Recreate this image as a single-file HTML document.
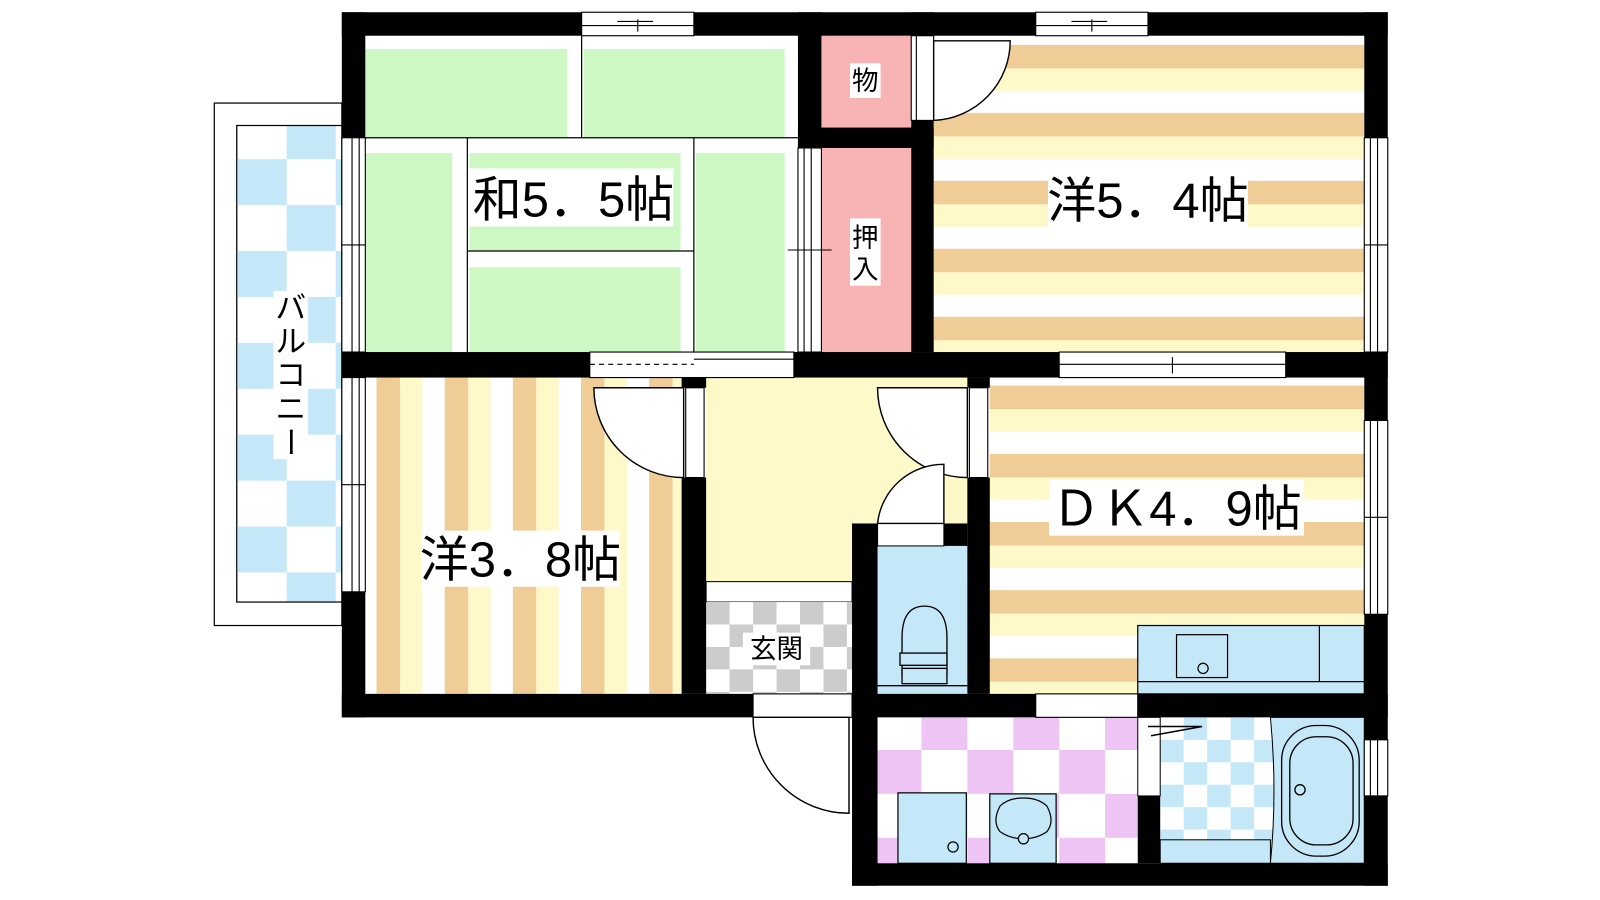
<!DOCTYPE html>
<html><head><meta charset="utf-8"><style>
html,body{margin:0;padding:0;background:#fff;width:1600px;height:900px;overflow:hidden}
svg{display:block}
.t{font-family:"Liberation Sans","Noto Sans CJK JP",sans-serif;fill:#000}
</style></head><body>
<svg width="1600" height="900" viewBox="0 0 1568 882" xmlns="http://www.w3.org/2000/svg">
<defs>
<pattern id="hs" patternUnits="userSpaceOnUse" x="0" y="44" width="10" height="66.6">
<rect width="10" height="23" fill="#f0cc96"/><rect y="23" width="10" height="22" fill="#fff8c8"/><rect y="45" width="10" height="21.6" fill="#fff"/></pattern>
<pattern id="hs2" patternUnits="userSpaceOnUse" x="0" y="378" width="10" height="66.8">
<rect width="10" height="23" fill="#f0cc96"/><rect y="23" width="10" height="22" fill="#fff8c8"/><rect y="45" width="10" height="21.8" fill="#fff"/></pattern>
<pattern id="vs" patternUnits="userSpaceOnUse" x="369" y="0" width="66.8" height="10">
<rect width="23" height="10" fill="#f0cc96"/><rect x="23" width="22" height="10" fill="#fff8c8"/><rect x="45" width="21.8" height="10" fill="#fff"/></pattern>
<pattern id="bal" patternUnits="userSpaceOnUse" x="233" y="111" width="96" height="90">
<rect width="96" height="90" fill="#fff"/><rect x="48" width="48" height="45" fill="#c4e8f8"/><rect y="45" width="48" height="45" fill="#c4e8f8"/></pattern>
<pattern id="pk" patternUnits="userSpaceOnUse" x="858" y="692" width="90" height="86">
<rect width="90" height="86" fill="#fff"/><rect x="45" width="45" height="43" fill="#eec4f4"/><rect y="43" width="45" height="43" fill="#eec4f4"/></pattern>
<pattern id="gr" patternUnits="userSpaceOnUse" x="692" y="590" width="46" height="44">
<rect width="46" height="44" fill="#fff"/><rect width="23" height="22" fill="#cccccc"/><rect x="23" y="22" width="23" height="22" fill="#cccccc"/></pattern>
<pattern id="bb" patternUnits="userSpaceOnUse" x="1137" y="703" width="46" height="44">
<rect width="46" height="44" fill="#fff"/><rect x="23" width="23" height="22" fill="#c4e8f8"/><rect y="22" width="23" height="22" fill="#c4e8f8"/></pattern>
</defs>

<!-- balcony -->
<rect x="210" y="101" width="125" height="512" fill="#fff" stroke="#000" stroke-width="1.2"/>
<rect x="232" y="123" width="103" height="467" fill="url(#bal)" stroke="#000" stroke-width="1.2"/>

<!-- japanese room -->
<rect x="358" y="35" width="424" height="310" fill="#fff"/>
<g fill="#cdf8c4">
<rect x="358" y="48" width="198" height="87"/><rect x="572" y="48" width="197" height="87"/>
<rect x="358" y="150" width="85" height="195"/><rect x="460" y="150" width="207" height="96"/>
<rect x="460" y="262" width="207" height="83"/><rect x="682" y="150" width="87" height="195"/>
</g>
<g stroke="#000" stroke-width="1.2">
<line x1="570" y1="35" x2="570" y2="135"/><line x1="358" y1="135" x2="782" y2="135"/>
<line x1="458" y1="135" x2="458" y2="345"/><line x1="680" y1="135" x2="680" y2="345"/>
<line x1="458" y1="246" x2="680" y2="246"/>
</g>

<!-- closets -->
<rect x="805" y="35" width="88" height="90" fill="#f8b4b4"/>
<rect x="805" y="145" width="88" height="200" fill="#f8b4b4"/>

<!-- 洋5.4 -->
<rect x="915" y="35" width="422" height="310" fill="url(#hs)"/>
<!-- 洋3.8 -->
<rect x="358" y="370" width="310" height="310" fill="url(#vs)"/>
<!-- hallway -->
<rect x="692" y="370" width="256" height="200" fill="#fff8c8"/>
<rect x="692" y="570" width="143" height="20" fill="#fff" stroke="#000" stroke-width="1"/>
<rect x="692" y="590" width="143" height="90" fill="url(#gr)"/>
<!-- toilet -->
<rect x="860" y="535" width="88" height="145" fill="#c4e8f8"/>
<rect x="860" y="513" width="65" height="22" fill="#fff" stroke="#000" stroke-width="1"/>
<g fill="none" stroke="#000" stroke-width="1.3">
<path d="M884,662 L884,625 Q884,594 906,594 Q928,594 928,625 L928,662"/>
<rect x="882" y="640" width="46" height="12" fill="#c4e8f8"/><rect x="884" y="655" width="44" height="15" fill="#c4e8f8"/>
<line x1="860" y1="672" x2="948" y2="672"/>
</g>
<!-- DK -->
<rect x="970" y="370" width="367" height="310" fill="url(#hs2)"/>
<rect x="1115" y="613" width="222" height="67" fill="#c4e8f8" stroke="#000" stroke-width="1.2"/>
<g fill="none" stroke="#000" stroke-width="1.2">
<line x1="1115" y1="668" x2="1337" y2="668"/><line x1="1293" y1="613" x2="1293" y2="668"/>
<rect x="1153" y="622" width="50" height="42"/><circle cx="1179" cy="655" r="5"/>
</g>
<!-- washroom -->
<rect x="860" y="703" width="255" height="143" fill="url(#pk)"/>
<g stroke="#000" stroke-width="1.2">
<rect x="880" y="777" width="67" height="69" fill="#c4e8f8"/><circle cx="934" cy="830" r="5" fill="none"/>
<rect x="970" y="778" width="65" height="68" fill="#c4e8f8"/>
<path d="M980,790 Q972,805 980,815 Q990,822 1003,822 Q1016,822 1026,815 Q1034,805 1026,790 Q1018,782 1003,782 Q988,782 980,790 Z" fill="none"/>
<circle cx="1003" cy="822" r="5" fill="#c4e8f8"/>
</g>
<!-- bath -->
<rect x="1137" y="703" width="200" height="143" fill="url(#bb)"/>
<rect x="1137" y="823" width="108" height="23" fill="#c4e8f8" stroke="#000" stroke-width="1"/>
<path d="M1245,703 L1337,703 L1337,846 L1245,846 Q1252,775 1245,703 Z" fill="#c4e8f8" stroke="#000" stroke-width="1"/>
<g fill="none" stroke="#000" stroke-width="1.3">
<rect x="1256" y="711" width="76" height="128" rx="34"/><rect x="1264" y="722" width="62" height="106" rx="26"/>
<circle cx="1274" cy="774" r="5"/>
</g>
<rect x="1115" y="703" width="22" height="77" fill="#fff" stroke="#000" stroke-width="1"/>
<path d="M1125,712 L1178,712 L1128,721" fill="none" stroke="#000" stroke-width="1.5"/>

<!-- walls -->
<g fill="#000">
<rect x="335" y="12" width="235" height="23"/><rect x="680" y="12" width="335" height="23"/><rect x="1125" y="12" width="235" height="23"/>
<rect x="335" y="12" width="23" height="123"/><rect x="335" y="345" width="243" height="25"/><rect x="335" y="580" width="23" height="123"/>
<rect x="335" y="680" width="403" height="23"/>
<rect x="778" y="345" width="260" height="25"/><rect x="1260" y="345" width="100" height="25"/>
<rect x="1337" y="12" width="23" height="123"/><rect x="1337" y="345" width="23" height="67"/><rect x="1337" y="602" width="23" height="123"/><rect x="1337" y="780" width="23" height="88"/>
<rect x="782" y="12" width="23" height="133"/><rect x="782" y="125" width="133" height="20"/>
<rect x="893" y="12" width="22" height="23"/><rect x="893" y="118" width="22" height="227"/>
<rect x="668" y="370" width="24" height="10"/><rect x="668" y="468" width="24" height="212"/>
<rect x="948" y="370" width="22" height="10"/><rect x="948" y="468" width="22" height="212"/>
<rect x="835" y="513" width="25" height="355"/><rect x="925" y="513" width="23" height="22"/>
<rect x="835" y="680" width="180" height="23"/><rect x="1115" y="680" width="245" height="23"/>
<rect x="835" y="846" width="525" height="22"/><rect x="1115" y="780" width="22" height="66"/>
</g>

<!-- windows -->
<g fill="#fff" stroke="#000" stroke-width="1.1">
<rect x="570" y="12" width="110" height="23"/><line x1="570" y1="25" x2="680" y2="25"/><line x1="625" y1="19" x2="625" y2="31"/><line x1="605" y1="21" x2="640" y2="21"/>
<rect x="1015" y="12" width="110" height="23"/><line x1="1015" y1="25" x2="1125" y2="25"/><line x1="1070" y1="19" x2="1070" y2="31"/><line x1="1050" y1="21" x2="1085" y2="21"/>
<rect x="335" y="135" width="23" height="210"/><line x1="345" y1="135" x2="345" y2="345"/><line x1="352" y1="135" x2="352" y2="345"/><line x1="335" y1="240" x2="358" y2="240"/>
<rect x="335" y="370" width="23" height="210"/><line x1="345" y1="370" x2="345" y2="580"/><line x1="352" y1="370" x2="352" y2="580"/><line x1="335" y1="475" x2="358" y2="475"/>
<rect x="1337" y="135" width="23" height="210"/><line x1="1343" y1="135" x2="1343" y2="345"/><line x1="1350" y1="135" x2="1350" y2="345"/><line x1="1337" y1="240" x2="1360" y2="240"/>
<rect x="1337" y="412" width="23" height="190"/><line x1="1343" y1="412" x2="1343" y2="602"/><line x1="1350" y1="412" x2="1350" y2="602"/><line x1="1337" y1="507" x2="1360" y2="507"/>
<rect x="1337" y="725" width="23" height="55"/><line x1="1343" y1="725" x2="1343" y2="780"/><line x1="1350" y1="725" x2="1350" y2="780"/>
<rect x="782" y="145" width="23" height="200"/><line x1="788" y1="145" x2="788" y2="345"/><line x1="795" y1="145" x2="795" y2="345"/><line x1="772" y1="245" x2="815" y2="245"/>
<rect x="1038" y="345" width="222" height="25"/><line x1="1038" y1="357" x2="1260" y2="357"/><line x1="1149" y1="350" x2="1149" y2="366"/>
<rect x="578" y="345" width="200" height="25"/><line x1="578" y1="357" x2="680" y2="357" stroke-dasharray="5,4"/><line x1="680" y1="352" x2="778" y2="352"/>
<rect x="1015" y="680" width="100" height="23"/>
<rect x="738" y="680" width="97" height="23"/>
<rect x="893" y="35" width="22" height="83"/><line x1="898" y1="35" x2="898" y2="118"/>
<rect x="672" y="380" width="18" height="88"/><rect x="950" y="380" width="18" height="88"/>
</g>

<!-- doors -->
<g fill="#fff" stroke="#000" stroke-width="1.4">
<path d="M915,40 L990,40 A78,78 0 0 1 915,118 Z"/>
<path d="M670,380 L582,380 A88,88 0 0 0 670,468 Z"/>
<path d="M948,380 L860,380 A88,88 0 0 0 948,468 Z"/>
<path d="M925,513 L860,513 A65,65 0 0 1 925,455 Z"/>
<path d="M832,703 L738,703 A94,94 0 0 0 832,797 Z"/>
</g>

<!-- labels -->
<rect x="460" y="165" width="200" height="57" fill="#fff"/>
<text class="t" x="562" y="212" font-size="48" text-anchor="middle">和5．5帖</text>
<rect x="1027" y="168" width="196" height="55" fill="#fff"/>
<text class="t" x="1125" y="213" font-size="48" text-anchor="middle">洋5．4帖</text>
<rect x="1028" y="470" width="250" height="55" fill="#fff"/>
<text class="t" x="1153" y="515" font-size="48" text-anchor="middle">ＤＫ4．9帖</text>
<rect x="413" y="520" width="194" height="55" fill="#fff"/>
<text class="t" x="510" y="565" font-size="48" text-anchor="middle">洋3．8帖</text>
<rect x="728" y="620" width="66" height="32" fill="#fff"/>
<text class="t" x="761" y="645" font-size="26" text-anchor="middle">玄関</text>
<rect x="833" y="62" width="30" height="34" fill="#fff"/>
<text class="t" x="848" y="88" font-size="26" text-anchor="middle">物</text>
<rect x="833" y="214" width="30" height="66" fill="#fff"/>
<text class="t" x="848" y="242" font-size="26" text-anchor="middle">押</text>
<text class="t" x="848" y="273" font-size="26" text-anchor="middle">入</text>
<rect x="268" y="285" width="34" height="165" fill="#fff"/>
<g class="t" font-size="30" text-anchor="middle">
<text x="285" y="312">バ</text><text x="285" y="345">ル</text><text x="285" y="378">コ</text><text x="285" y="411">ニ</text>
<text x="285" y="444" transform="rotate(90 285 433)">ー</text>
</g>
</svg>
</body></html>
